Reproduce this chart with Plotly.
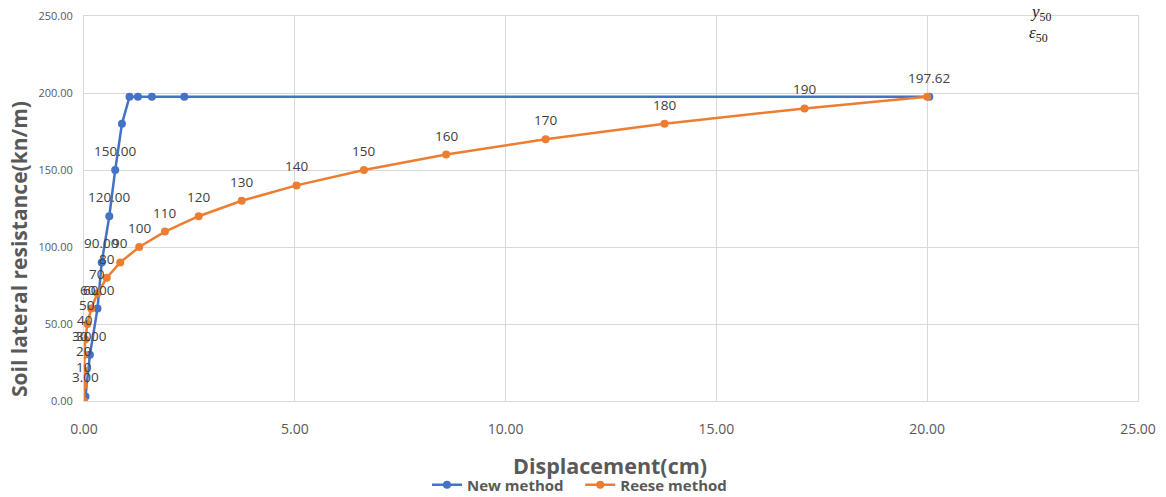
import plotly.graph_objects as go

# New method: displacement (cm) and soil lateral resistance (kN/m)
new_disp = [0.035, 0.14, 0.32, 0.42, 0.60, 0.74, 0.90, 1.08, 1.28, 1.61, 2.38, 20.05]
new_p = [3.00, 30.00, 60.00, 90.00, 120.00, 150.00, 180.00, 197.62, 197.62, 197.62, 197.62, 197.62]
new_labels = ["3.00", "30.00", "60.00", "90.00", "120.00", "150.00", "", "", "", "", "", "197.62"]

# Reese method
reese_disp = [0.00, 0.00, 0.00, 0.01, 0.03, 0.08, 0.17, 0.32, 0.54, 0.86, 1.31,
              1.92, 2.72, 3.74, 5.04, 6.64, 8.59, 10.95, 13.77, 17.09, 20.00]
reese_p = [0, 10, 20, 30, 40, 50, 60, 70, 80, 90, 100,
           110, 120, 130, 140, 150, 160, 170, 180, 190, 197.62]
reese_labels = ["", "10", "20", "30", "40", "50", "60", "70", "80", "90", "100",
                "110", "120", "130", "140", "150", "160", "170", "180", "190", ""]

x_ticks = [0, 5, 10, 15, 20, 25]
y_ticks = [0, 50, 100, 150, 200, 250]

BLUE = "#4472C4"
ORANGE = "#ED7D31"
GRID = "#D9D9D9"
TXT = "#595959"
FONT = "Open Sans"

W, H = 1166, 497
L, R, T, B = 84, 28, 16, 96
PW, PH = W - L - R, H - T - B


def paper_x(px):
    return (px - L) / PW


def paper_y(py):
    return 1 - (py - T) / PH


fig = go.Figure()
fig.add_trace(go.Scatter(
    x=new_disp, y=new_p, mode="lines+markers", name="New method\u00a0\u00a0\u00a0",
    line=dict(color=BLUE, width=2.5), marker=dict(color=BLUE, size=8),
))
fig.add_trace(go.Scatter(
    x=reese_disp, y=reese_p, mode="lines+markers", name="Reese method",
    line=dict(color=ORANGE, width=2.5), marker=dict(color=ORANGE, size=8),
))

annotations = []
for xs, ys, labels in ((reese_disp, reese_p, reese_labels), (new_disp, new_p, new_labels)):
    for x, y, t in zip(xs, ys, labels):
        if t:
            annotations.append(dict(
                x=x, y=y, xref="x", yref="y", text=t, showarrow=False,
                yshift=19, font=dict(family=FONT, size=13.5, color="#404040"),
            ))

# symbol notes in the upper-right corner (positions given in pixels)
for px, py, txt in ((1040, 13, "<i>y</i><sub>50</sub>"), (1038, 34, "<i>ε</i><sub>50</sub>")):
    annotations.append(dict(
        x=paper_x(px), y=paper_y(py), xanchor="center", yanchor="middle",
        xref="paper", yref="paper", text=txt, showarrow=False,
        font=dict(family="Liberation Serif", size=17, color="#222"),
    ))

# axis titles
annotations.append(dict(
    x=paper_x(19), y=paper_y(249), xanchor="center", yanchor="middle",
    xref="paper", yref="paper", text="<b>Soil lateral resistance(kn/m)</b>",
    textangle=-90, showarrow=False, font=dict(family=FONT, size=21, color=TXT),
))
annotations.append(dict(
    x=paper_x(610), y=paper_y(465), xanchor="center", yanchor="middle",
    xref="paper", yref="paper", text="<b>Displacement(cm)</b>",
    showarrow=False, font=dict(family=FONT, size=21.5, color=TXT),
))

fig.update_layout(
    width=W, height=H,
    margin=dict(l=L, r=R, t=T, b=B, autoexpand=False),
    paper_bgcolor="white", plot_bgcolor="white",
    font=dict(family=FONT, color=TXT),
    showlegend=True,
    legend=dict(orientation="h", x=0.497, xanchor="center", xref="container",
                y=1 - 485 / H, yanchor="middle", yref="container",
                font=dict(family=FONT, size=15, color=TXT, weight="bold"), itemwidth=30,
                tracegroupgap=0),
    annotations=annotations,
)
fig.update_xaxes(
    range=[0, 25], tickvals=x_ticks, tickformat=".2f", automargin=False,
    showgrid=True, gridcolor=GRID, gridwidth=1,
    showline=True, linecolor=GRID, mirror=True, zeroline=False,
    ticks="outside", ticklen=15, tickcolor="rgba(0,0,0,0)",
    tickfont=dict(family=FONT, size=14, color=TXT),
)
fig.update_yaxes(
    range=[0, 250], tickvals=y_ticks, tickformat=".2f", automargin=False,
    showgrid=True, gridcolor=GRID, gridwidth=1,
    showline=True, linecolor=GRID, mirror=True, zeroline=False,
    ticks="outside", ticklen=8, tickcolor="rgba(0,0,0,0)",
    tickfont=dict(family=FONT, size=11, color=TXT),
)

fig.write_html("out.html")
